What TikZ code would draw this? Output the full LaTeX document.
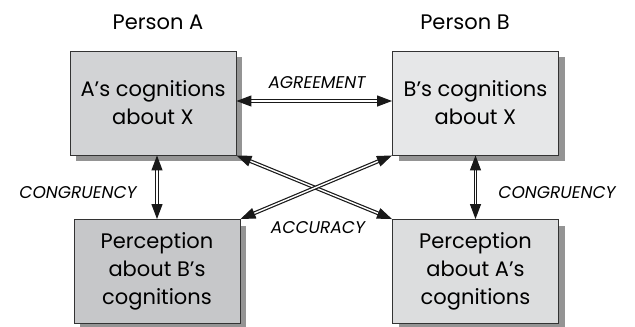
\documentclass[tikz,border=0pt]{standalone}
\usepackage{fontspec}
\setmainfont{Poppins}
\usetikzlibrary{shadows,arrows.meta}
\definecolor{boxA}{HTML}{D2D3D5}
\definecolor{boxAp}{HTML}{C6C7C9}
\definecolor{boxB}{HTML}{E6E7E8}
\definecolor{boxBp}{HTML}{DCDDDE}
\begin{document}
\begin{tikzpicture}[x=1bp, y=-1bp]
	\tikzstyle{every node} = [inner sep=0pt]
	\tikzstyle{cogbox} = [rectangle, draw=black!80, line width=0.9bp, minimum width=166bp, minimum height=104bp, align=center, font=\fontsize{21bp}{28bp}\selectfont, drop shadow={shadow xshift=6bp, shadow yshift=-6bp, fill=black!42, opacity=1}]
	\tikzstyle{title} = [font=\fontsize{21bp}{24bp}\selectfont]
	\tikzstyle{lbl} = [font=\fontsize{17bp}{19bp}\selectfont\itshape]
	\tikzstyle{dbl} = [draw=black!90, line width=1.2bp, double=white, double distance=1.4bp, {Triangle[length=15bp,width=11bp]}-{Triangle[length=15bp,width=11bp]}]
	\useasboundingbox (0,0) rectangle (635,326);
	\node[title] (PA) at (158, 22) {Person A};
	\node[title] (PB) at (465, 22) {Person B};
	\node[cogbox, fill=boxA] (A1) at (153, 103) {A’s cognitions\\about X};
	\node[cogbox, fill=boxB] (B1) at (475.5, 103) {B’s cognitions\\about X};
	\node[cogbox, fill=boxAp] (A2) at (157, 271.5) {Perception\\about B’s\\cognitions};
	\node[cogbox, fill=boxBp] (B2) at (475.5, 271.5) {Perception\\about A’s\\cognitions};
	\node[lbl] (agr) at (317, 83) {AGREEMENT};
	\node[lbl] (acc) at (318, 228) {ACCURACY};
	\node[lbl] (conA) at (78, 193) {CONGRUENCY};
	\node[lbl] (conB) at (557, 193) {CONGRUENCY};
	\draw [dbl] ([yshift=2bp]A1.east)--([yshift=2bp]B1.west);
	\draw [dbl] (A1.south -| A2.north)--(A2.north);
	\draw [dbl] (B1.south)--(B2.north);
	\draw [dbl] (A1.south east)--(B2.north west);
	\draw [dbl] (A2.north east)--(B1.south west);
\end{tikzpicture}
\end{document}
